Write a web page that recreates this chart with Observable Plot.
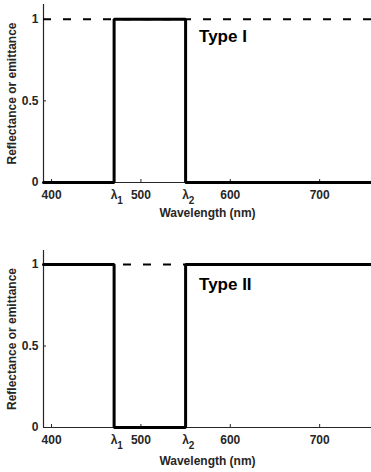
<!DOCTYPE html>
<html>
<head>
<meta charset="utf-8">
<script src="https://cdn.jsdelivr.net/npm/d3@7"></script>
<script src="https://cdn.jsdelivr.net/npm/@observablehq/plot@0.6"></script>
<style>
  body { margin: 0; background: white; }
  #chart svg { display: block; }
</style>
</head>
<body>
<div id="chart"></div>
<script>
// ---- data ----
const xDomain = [391, 758];
const lambdaValues = [470, 550];
const lambdaSubs = ["1", "2"];
const stepX = [391, 470, 470, 550, 550, 758];
const typeIY = [0, 0, 1, 1, 0, 0];
const typeIIY = [1, 1, 0, 0, 1, 1];
const xTicks = [400, 500, 600, 700];
const yTicks = [0, 0.5, 1];
const yTickLabels = ["0", "0.5", "1"];
const referenceLevel = [1];
const panelNames = ["Type I", "Type II"];
const xLabel = "Wavelength (nm)";
const yLabel = "Reflectance or emittance";

const axisColor = "#262626";

function panel(yValues, name, opts) {
  const pts = stepX.map((x, i) => ({x, y: yValues[i]}));
  return Plot.plot({
    width: 371,
    height: 236,
    marginLeft: 43,
    marginRight: 0,
    marginTop: opts.marginTop,
    marginBottom: opts.marginBottom,
    x: {domain: xDomain},
    y: {domain: [0, opts.yTop]},
    style: {
      fontFamily: "'Liberation Sans', Arial, sans-serif",
      fontSize: "12px",
      fontWeight: "bold",
      color: axisColor,
      background: "white"
    },
    marks: [
      Plot.ruleX([xDomain[0]], {stroke: axisColor, strokeWidth: 1.2}),
      Plot.ruleY([0], {stroke: axisColor, strokeWidth: 1.2}),
      Plot.axisX(xTicks, {tickSize: -3, tickPadding: 11, label: null, tickFormat: d => String(d)}),
      Plot.axisY(yTicks, {tickSize: -3, tickPadding: 8, label: null, tickFormat: d => yTickLabels[yTicks.indexOf(d)]}),
      Plot.text(lambdaValues, {x: d => d, text: () => "λ", frameAnchor: "bottom", lineAnchor: "top", dy: 8, fill: axisColor}),
      Plot.text(lambdaValues, {x: d => d, text: (d, i) => lambdaSubs[i], frameAnchor: "bottom", lineAnchor: "top", dx: 6, dy: 14, fontSize: 10, fill: axisColor}),
      Plot.text([xLabel], {text: d => d, frameAnchor: "bottom", lineAnchor: "middle", dy: opts.xLabelDy, fill: axisColor}),
      Plot.text([yLabel], {text: d => d, frameAnchor: "left", textAnchor: "middle", rotate: -90, dx: -31, fill: axisColor}),
      Plot.ruleY(referenceLevel, {stroke: "black", strokeWidth: 2, strokeDasharray: "8,12"}),
      Plot.line(pts, {x: "x", y: "y", stroke: "black", strokeWidth: 3, strokeLinejoin: "miter"}),
      Plot.text([name], {x: () => 565, y: () => opts.labelY, text: d => d, textAnchor: "start", fontSize: 17, fontWeight: "bold", fill: "black"})
    ]
  });
}

const chart = document.getElementById("chart");
chart.append(panel(typeIY, panelNames[0], {marginTop: 4, marginBottom: 54, yTop: 1.09, xLabelDy: 31, labelY: 0.895}));
chart.append(panel(typeIIY, panelNames[1], {marginTop: 14, marginBottom: 45, yTop: 1.086, xLabelDy: 34, labelY: 0.877}));
</script>
</body>
</html>
